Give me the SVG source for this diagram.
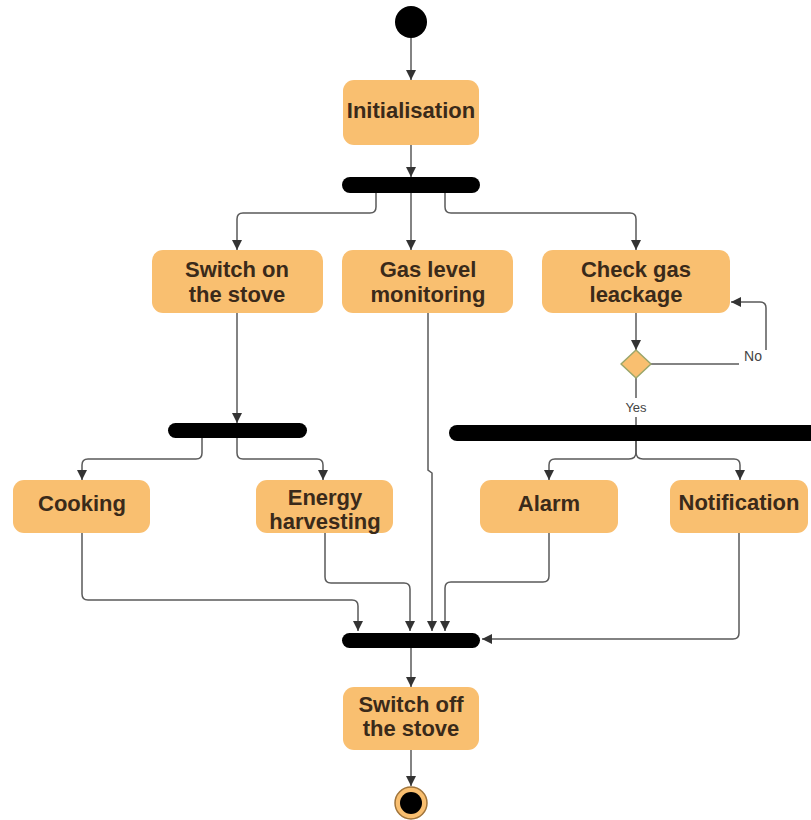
<svg xmlns="http://www.w3.org/2000/svg" width="811" height="820" viewBox="0 0 811 820">
<defs>
<marker id="arr" markerUnits="userSpaceOnUse" markerWidth="10" markerHeight="10" refX="10" refY="5" orient="auto">
<path d="M0,0 L10,5 L0,10 z" fill="#333"/>
</marker>
<style>
.box{fill:#F9BF70;}
.lbl{font-family:"Liberation Sans",Arial,sans-serif;font-weight:bold;font-size:22px;fill:#3a2a1a;text-anchor:middle;}
.bar{fill:#000;}
.c{fill:none;stroke:#5a5a5a;stroke-width:1.5;}
.a{marker-end:url(#arr);}
.small{font-family:"Liberation Sans",Arial,sans-serif;font-size:14px;fill:#444;text-anchor:middle;}
</style>
</defs>
<rect width="811" height="820" fill="#fff"/>
<g id="connectors">
<path class="c a" d="M411,38 V80"/>
<path class="c a" d="M411,145 V177"/>
<path class="c a" d="M376,193 V207 Q376,213 370,213 H243 Q237,213 237,219 V250"/>
<path class="c a" d="M411,193 V250"/>
<path class="c a" d="M445,193 V207 Q445,213 451,213 H630 Q636,213 636,219 V250"/>
<path class="c a" d="M636,313 V350"/>
<path class="c" d="M651,364 H739"/>
<path class="c a" d="M766,350 V308 Q766,302 760,302 H731"/>
<path class="c" d="M636,378 V398"/>
<path class="c" d="M636,417 V426"/>
<path class="c a" d="M636,441 V452 Q636,459 629,459 H555 Q549,459 549,465 V480"/>
<path class="c a" d="M636,441 V452 Q636,459 643,459 H734 Q740,459 740,465 V480"/>
<path class="c a" d="M237,313 V423"/>
<path class="c a" d="M202,438 V453 Q202,459 196,459 H88 Q82,459 82,465 V480"/>
<path class="c a" d="M237,438 V453 Q237,459 243,459 H317 Q323,459 323,465 V480"/>
<path class="c a" d="M82,533 V594 Q82,600 88,600 H352 Q358,600 358,606 V631"/>
<path class="c a" d="M325,533 V577 Q325,583 331,583 H404 Q410,583 410,589 V631"/>
<path class="c a" d="M428,313 V470 L432,473 V631"/>
<path class="c a" d="M549,533 V576 Q549,582 543,582 H451 Q445,582 445,588 V631"/>
<path class="c a" d="M739,533 V633 Q739,639 733,639 H482"/>
<path class="c a" d="M411,648 V687"/>
<path class="c a" d="M411,750 V786"/>
</g>
<g id="start"><circle cx="411" cy="22" r="16" fill="#000"/></g>
<g id="initialisation"><rect class="box" x="343" y="80" width="136" height="65" rx="11"/><text class="lbl" x="411" y="118">Initialisation</text></g>
<g id="fork1"><rect class="bar" x="342" y="177" width="138" height="16" rx="8"/></g>
<g id="switch-on"><rect class="box" x="152" y="250" width="171" height="63" rx="11"/><text class="lbl" x="237" y="277">Switch on</text><text class="lbl" x="237" y="302">the stove</text></g>
<g id="gas-level"><rect class="box" x="342" y="250" width="171" height="63" rx="11"/><text class="lbl" x="428" y="277">Gas level</text><text class="lbl" x="428" y="302">monitoring</text></g>
<g id="check-gas"><rect class="box" x="542" y="250" width="188" height="63" rx="11"/><text class="lbl" x="636" y="277">Check gas</text><text class="lbl" x="636" y="302">leackage</text></g>
<g id="decision"><path d="M636,350 L651,364 L636,378 L621,364 z" fill="#F9BF70" stroke="#9aa66a" stroke-width="1.5" stroke-linejoin="round"/></g>
<g id="label-no"><text class="small" x="753" y="361">No</text></g>
<g id="label-yes"><text class="small" x="636" y="412" style="font-size:13px">Yes</text></g>
<g id="fork2"><rect class="bar" x="168" y="423" width="139" height="15" rx="7.5"/></g>
<g id="fork3"><rect class="bar" x="449" y="425" width="380" height="16" rx="8"/></g>
<g id="cooking"><rect class="box" x="13" y="480" width="137" height="53" rx="11"/><text class="lbl" x="82" y="511">Cooking</text></g>
<g id="energy"><rect class="box" x="256" y="480" width="137" height="53" rx="11"/><text class="lbl" x="325" y="505">Energy</text><text class="lbl" x="325" y="529">harvesting</text></g>
<g id="alarm"><rect class="box" x="480" y="480" width="138" height="53" rx="11"/><text class="lbl" x="549" y="511">Alarm</text></g>
<g id="notification"><rect class="box" x="670" y="480" width="138" height="53" rx="11"/><text class="lbl" x="739" y="510">Notification</text></g>
<g id="join"><rect class="bar" x="342" y="633" width="138" height="15" rx="7.5"/></g>
<g id="switch-off"><rect class="box" x="343" y="687" width="136" height="63" rx="11"/><text class="lbl" x="411" y="712">Switch off</text><text class="lbl" x="411" y="736">the stove</text></g>
<g id="end"><circle cx="411" cy="803" r="16" fill="#F9BF70" stroke="#a0743a" stroke-width="1.5"/><circle cx="411" cy="803" r="11" fill="#000"/></g>
</svg>
